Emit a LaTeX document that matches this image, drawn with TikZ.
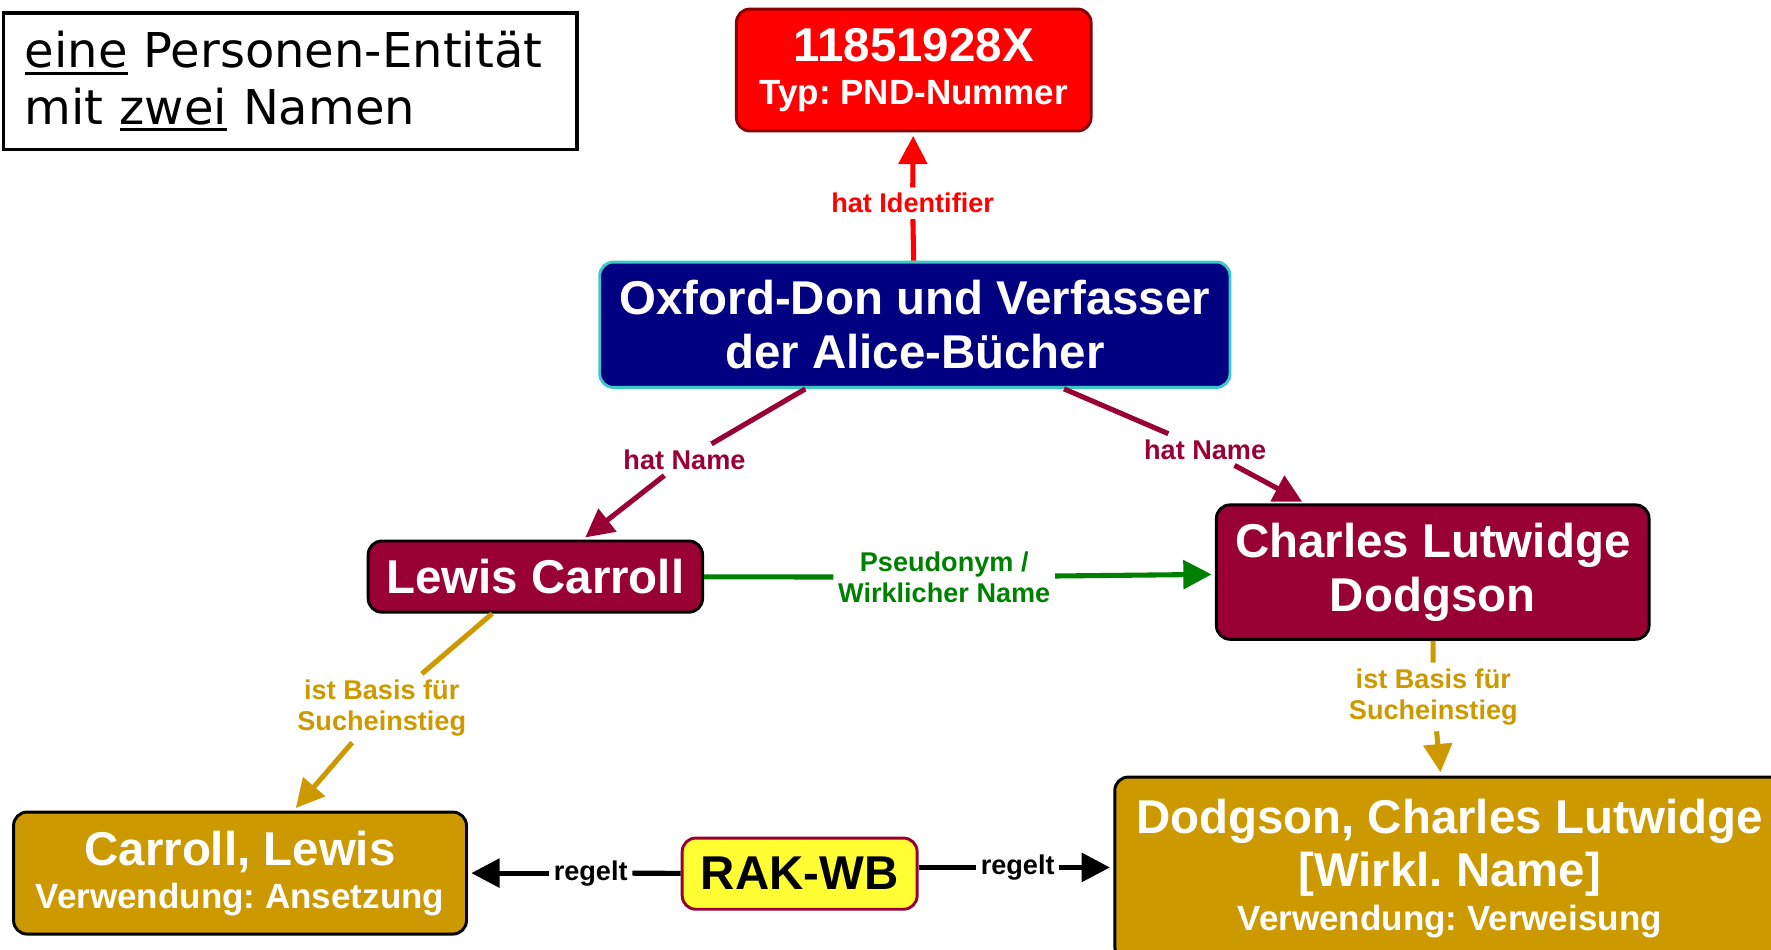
\documentclass[tikz,border=0pt]{standalone}
\usepackage{fontspec}
\setmainfont{Liberation Sans}
\newfontfamily\verd{DejaVu Sans}
\usetikzlibrary{arrows.meta}
\frenchspacing
\definecolor{cmaroon}{HTML}{990033}
\definecolor{cgold}{HTML}{CC9900}
\definecolor{cgreen}{HTML}{008000}
\definecolor{cred}{HTML}{FF0000}
\definecolor{cdkred}{HTML}{8A0000}
\definecolor{cnavy}{HTML}{000080}
\definecolor{cturq}{HTML}{3CC8C8}
\definecolor{cyellow}{HTML}{FFFF33}
\tikzset{
  box/.style={rectangle, rounded corners=12pt, line width=2.6pt, align=center,
    text=white, inner sep=0pt, font=\fontsize{42}{48}\selectfont\bfseries},
  lbl/.style={align=center, inner xsep=4pt, inner ysep=5pt,
    font=\fontsize{24}{28}\selectfont\bfseries},
  con/.style={line width=4.5pt},
  tipd/.style={-{Triangle[length=25pt,width=25pt]}, shorten >=3pt},
}
\newcommand{\smallline}[1]{{\fontsize{31}{38}\selectfont #1}}
\newcommand{\myul}[1]{\leavevmode\setbox0\hbox{#1}\rlap{\rule[-6pt]{\wd0}{2.6pt}}\box0\relax}
\begin{document}
\begin{tikzpicture}[x=1pt,y=-1pt]
\useasboundingbox (0,0) rectangle (1568,841);
\clip (0,0) rectangle (1568,841);

% title box
\node[draw=black, line width=3pt, minimum width=508pt, minimum height=121pt,
  text width=470pt, inner xsep=19pt, align=left,
  font=\verd\fontsize{42.5}{50}\selectfont] (title) at (257,72)
  {\myul{eine} Personen-Entität\\mit \myul{zwei} Namen};

% boxes
\node[box, fill=cred, draw=cdkred, minimum width=314pt, minimum height=108pt] (pnd) at (809,62)
  {11851928X\\[-10pt]\smallline{Typ: PND-Nummer}};
\node[box, fill=cnavy, draw=cturq, minimum width=558pt, minimum height=111pt] (don) at (810,287.5)
  {Oxford-Don und Verfasser\\der Alice-Bücher};
\node[box, fill=cmaroon, draw=black, minimum width=296pt, minimum height=63pt] (lewis) at (474,510.5)
  {Lewis Carroll};
\node[box, fill=cmaroon, draw=black, minimum width=383pt, minimum height=119pt] (charles) at (1268.5,506.5)
  {Charles Lutwidge\\Dodgson};
\node[box, fill=cgold, draw=black, minimum width=401pt, minimum height=108pt] (carroll) at (212.5,773)
  {Carroll, Lewis\\[-10pt]\smallline{Verwendung: Ansetzung}};
\node[box, fill=cgold, draw=black, minimum width=593pt, minimum height=162pt] (dodgson) at (1283.5,769)
  {Dodgson, Charles Lutwidge\\[-1pt][Wirkl. Name]\\[-9pt]\smallline{Verwendung: Verweisung}};
\node[box, fill=cyellow, draw=cmaroon, text=black, minimum width=208pt, minimum height=63pt] (rak) at (708,773.5)
  {RAK-WB};

% labels
\node[lbl, text=cred] (l1) at (808,180) {hat Identifier};
\node[lbl, text=cmaroon] (l2) at (606,407) {hat Name};
\node[lbl, text=cmaroon] (l3) at (1067,398) {hat Name};
\node[lbl, text=cgreen] (l4) at (836,511) {Pseudonym /\\Wirklicher Name};
\node[lbl, text=cgold] (l5) at (338,627) {ist Basis für\\Sucheinstieg};
\node[lbl, text=cgold] (l6) at (1269,617) {ist Basis für\\Sucheinstieg};
\node[lbl, text=black] (l7) at (523,773) {regelt};
\node[lbl, text=black] (l8) at (901,768) {regelt};

% connectors
\draw[con, cred] (don) -- (l1);
\draw[con, cred, tipd] (l1) -- (pnd);
\draw[con, cmaroon] (don) -- (l2);
\draw[con, cmaroon, tipd] (l2) -- (lewis);
\draw[con, cmaroon] (don) -- (l3);
\draw[con, cmaroon, tipd] (l3) -- (charles);
\draw[con, cgreen] (lewis) -- (l4);
\draw[con, cgreen, tipd] (l4) -- (charles);
\draw[con, cgold] (lewis) -- (l5);
\draw[con, cgold, tipd] (l5) -- (carroll);
\draw[con, cgold] (charles) -- (l6);
\draw[con, cgold, tipd] (l6) -- (dodgson);
\draw[con, black] (rak) -- (l7);
\draw[con, black, tipd] (l7) -- (carroll);
\draw[con, black] (rak.east |- l8) -- (l8);
\draw[con, black, tipd] (l8) -- (dodgson.west |- l8);
\end{tikzpicture}
\end{document}
